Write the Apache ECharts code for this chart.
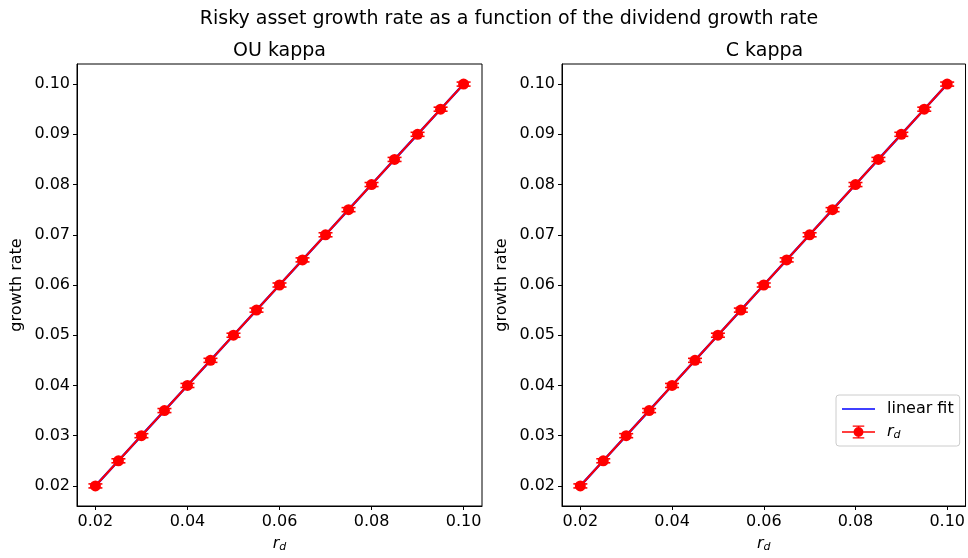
<!DOCTYPE html>
<html>
<head>
<meta charset="utf-8">
<script src="https://cdn.jsdelivr.net/npm/echarts@6/dist/echarts.min.js"></script>
<style>html,body{margin:0;padding:0;background:#fff}#c{width:968px;height:558px}</style>
</head>
<body>
<div id="c"></div>
<script>
const rd = [0.020,0.025,0.030,0.035,0.040,0.045,0.050,0.055,0.060,0.065,0.070,0.075,0.080,0.085,0.090,0.095,0.100];
const growthOU = [0.020,0.025,0.030,0.035,0.040,0.045,0.050,0.055,0.060,0.065,0.070,0.075,0.080,0.085,0.090,0.095,0.100];
const errOU = [0.0004,0.0004,0.0004,0.0004,0.0004,0.0004,0.0004,0.0004,0.0004,0.0004,0.0004,0.0004,0.0004,0.0004,0.0004,0.0004,0.0004];
const fitOU = [0.020,0.025,0.030,0.035,0.040,0.045,0.050,0.055,0.060,0.065,0.070,0.075,0.080,0.085,0.090,0.095,0.100];
const growthC = [0.020,0.025,0.030,0.035,0.040,0.045,0.050,0.055,0.060,0.065,0.070,0.075,0.080,0.085,0.090,0.095,0.100];
const errC = [0.0004,0.0004,0.0004,0.0004,0.0004,0.0004,0.0004,0.0004,0.0004,0.0004,0.0004,0.0004,0.0004,0.0004,0.0004,0.0004,0.0004];
const fitC = [0.020,0.025,0.030,0.035,0.040,0.045,0.050,0.055,0.060,0.065,0.070,0.075,0.080,0.085,0.090,0.095,0.100];
const xTicks = [0.02,0.04,0.06,0.08,0.10];
const yTicks = [0.02,0.03,0.04,0.05,0.06,0.07,0.08,0.09,0.10];
const panelTitles = ['OU kappa','C kappa'];
const suptitle = 'Risky asset growth rate as a function of the dividend growth rate';

const FONT = 'DejaVu Sans';
const chart = echarts.init(document.getElementById('c'), null, {renderer:'canvas'});

const rich = {
  i:{fontFamily:FONT,fontStyle:'italic',fontSize:16,color:'#000'},
  s:{fontFamily:FONT,fontStyle:'italic',fontSize:11,color:'#000',verticalAlign:'bottom',padding:[7,0,0,0]}
};

function xAxisCfg(gi){
  return {
    type:'value', gridIndex:gi, min:0.016, max:0.104,
    name:'{i|r}{s|d}', nameLocation:'middle', nameGap:29,
    nameTextStyle:{rich:rich},
    splitLine:{show:false},
    axisLine:{show:true,onZero:false,lineStyle:{color:'#000',width:1}},
    axisTick:{show:true,length:4,lineStyle:{color:'#000'},customValues:xTicks},
    axisLabel:{color:'#000',fontFamily:FONT,fontSize:16,margin:8,customValues:xTicks,formatter:v=>v.toFixed(2)}
  };
}
function yAxisCfg(gi){
  return {
    type:'value', gridIndex:gi, min:0.016, max:0.104,
    name:'growth rate', nameLocation:'middle', nameGap:52, nameRotate:90,
    nameTextStyle:{fontFamily:FONT,fontSize:16,color:'#000'},
    splitLine:{show:false},
    axisLine:{show:true,onZero:false,lineStyle:{color:'#000',width:1}},
    axisTick:{show:true,length:4,lineStyle:{color:'#000'},customValues:yTicks},
    axisLabel:{color:'#000',fontFamily:FONT,fontSize:16,margin:7,customValues:yTicks,formatter:v=>v.toFixed(2)}
  };
}

function errSeries(gi, ys, errs){
  return {
    type:'custom', xAxisIndex:gi, yAxisIndex:gi, z:3, silent:true,
    data: rd.map((x,i)=>[x, ys[i], errs[i]]),
    renderItem:function(params, api){
      const x = api.value(0), y = api.value(1), e = api.value(2);
      const top = api.coord([x, y+e]);
      const bot = api.coord([x, y-e]);
      const st = {stroke:'#ff0000', lineWidth:1.6};
      return {type:'group', children:[
        {type:'line', shape:{x1:top[0],y1:top[1],x2:bot[0],y2:bot[1]}, style:st},
        {type:'line', shape:{x1:top[0]-7,y1:top[1],x2:top[0]+7,y2:top[1]}, style:st},
        {type:'line', shape:{x1:bot[0]-7,y1:bot[1],x2:bot[0]+7,y2:bot[1]}, style:st}
      ]};
    }
  };
}

const errIcon = 'path://M0,9H40V11H0Z M19,2H21V18H19Z M13,2H27V3.6H13Z M13,16.4H27V18H13Z M26,10A6,6 0 1 1 14,10A6,6 0 1 1 26,10Z';
const lineIcon = 'path://M0,9H40V11H0Z';

function panelSeries(gi, ys, errs, fit){
  return [
    {name:'linear fit', type:'line', xAxisIndex:gi, yAxisIndex:gi, z:2,
     data: rd.map((x,i)=>[x, fit[i]]), symbol:'none', showSymbol:false,
     lineStyle:{color:'#0000ff', width:2.4}, itemStyle:{color:'#0000ff'}, silent:true, animation:false},
    errSeries(gi, ys, errs),
    {name:'r_d', type:'line', xAxisIndex:gi, yAxisIndex:gi, z:4,
     data: rd.map((x,i)=>[x, ys[i]]), symbol:'circle', symbolSize:11,
     lineStyle:{color:'#ff0000', width:2}, itemStyle:{color:'#ff0000'}, silent:true, animation:false}
  ];
}

const option = {
  animation:false,
  backgroundColor:'#fff',
  title:[
    {text:suptitle, left:504, top:5, textAlign:'center', textStyle:{fontFamily:FONT,fontSize:19,fontWeight:'normal',color:'#000'}},
    {text:panelTitles[0], left:274.5, top:37, textAlign:'center', textStyle:{fontFamily:FONT,fontSize:19,fontWeight:'normal',color:'#000'}},
    {text:panelTitles[1], left:759.5, top:37, textAlign:'center', textStyle:{fontFamily:FONT,fontSize:19,fontWeight:'normal',color:'#000'}}
  ],
  grid:[
    {left:77, top:64, width:405, height:443, show:true, borderColor:'#000', borderWidth:1, backgroundColor:'transparent', containLabel:false},
    {left:562, top:64, width:404, height:443, show:true, borderColor:'#000', borderWidth:1, backgroundColor:'transparent', containLabel:false}
  ],
  xAxis:[xAxisCfg(0), xAxisCfg(1)],
  yAxis:[yAxisCfg(0), yAxisCfg(1)],
  legend:{
    orient:'vertical', left:836, top:395,
    padding:[6,6,5,6], itemGap:7,
    backgroundColor:'rgba(255,255,255,0.8)', borderColor:'#cccccc', borderWidth:1, borderRadius:3,
    itemWidth:33, itemHeight:17,
    data:[{name:'linear fit', icon:lineIcon, itemStyle:{color:'#0000ff'}}, {name:'r_d', icon:errIcon, itemStyle:{color:'#ff0000'}}],
    formatter:function(n){ return n==='r_d' ? '{i|r}{s|d}' : n; },
    textStyle:{fontFamily:FONT,fontSize:16,color:'#000',rich:rich,padding:[0,0,0,7]},
    selectedMode:false
  },
  series:[].concat(panelSeries(0, growthOU, errOU, fitOU), panelSeries(1, growthC, errC, fitC))
};
chart.setOption(option);
</script>
</body>
</html>
